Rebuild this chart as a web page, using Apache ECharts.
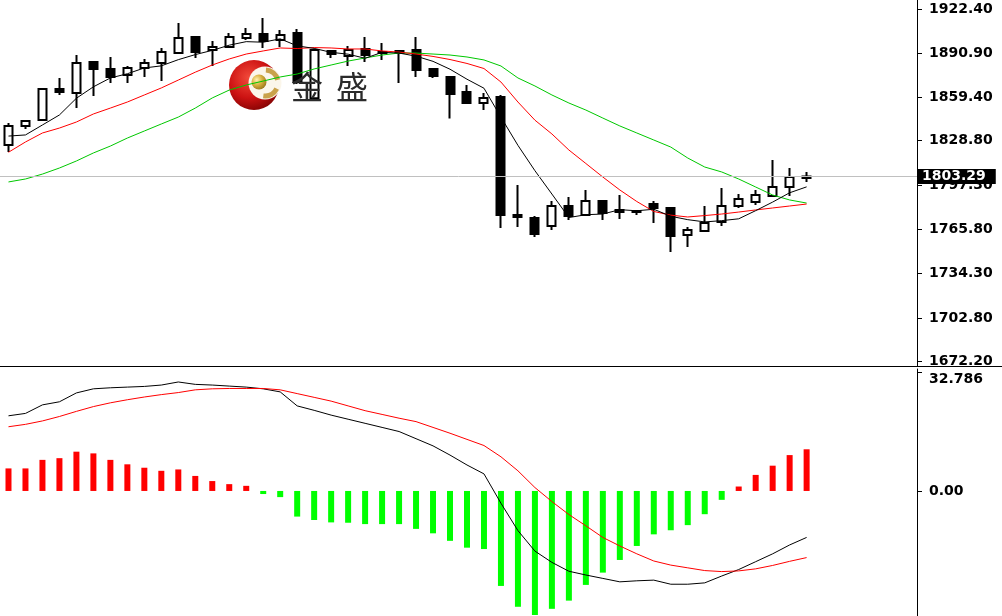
<!DOCTYPE html>
<html>
<head>
<meta charset="utf-8">
<script src="https://cdn.jsdelivr.net/npm/echarts@6/dist/echarts.min.js"></script>
<style>html,body{margin:0;padding:0;background:#fff;overflow:hidden}#c{width:1002px;height:616px}</style>
</head>
<body>
<div id="c"></div>
<script>
// ---- data ----
const opens  = [1825.7,1839.3,1843.5,1865.5,1862.7,1884.7,1879.8,1875.5,1880.5,1884.0,1891.1,1902.5,1893.3,1895.4,1901.8,1904.6,1900.4,1905.3,1859.0,1892.6,1889.0,1894.0,1891.8,1892.6,1893.3,1879.8,1874.1,1863.4,1855.6,1859.9,1776.0,1773.9,1768.2,1782.4,1776.0,1786.0,1779.6,1778.8,1783.8,1780.9,1761.8,1764.6,1771.0,1782.4,1785.2,1789.5,1795.9,1802.3];
const closes = [1839.3,1842.8,1865.5,1863.4,1884.0,1879.8,1874.1,1880.5,1884.0,1891.8,1901.8,1891.8,1895.4,1902.5,1904.6,1899.7,1903.9,1870.5,1893.3,1890.4,1893.3,1889.7,1891.1,1891.1,1879.1,1874.8,1862.0,1855.6,1859.1,1776.0,1774.6,1762.5,1782.4,1775.3,1786.0,1777.4,1778.1,1778.1,1780.9,1761.1,1765.3,1770.3,1782.4,1787.4,1790.2,1795.9,1803.0,1803.3];
const lows   = [1820.8,1837.1,1842.8,1861.3,1852.0,1860.6,1869.8,1869.8,1874.1,1871.2,1891.1,1887.6,1881.9,1895.4,1900.4,1894.7,1895.4,1869.1,1857.0,1887.6,1881.9,1884.7,1886.2,1869.8,1874.1,1873.4,1844.6,1855.6,1850.6,1766.8,1767.5,1760.4,1765.3,1772.4,1776.0,1772.4,1773.2,1776.0,1770.3,1749.7,1753.3,1764.6,1768.2,1780.9,1783.1,1789.5,1789.5,1799.5];
const highs  = [1841.4,1843.5,1866.3,1873.4,1889.7,1884.7,1888.3,1881.9,1886.9,1894.7,1912.5,1903.2,1899.7,1905.3,1908.9,1916.0,1907.5,1908.2,1894.0,1893.3,1896.1,1902.5,1898.2,1892.6,1902.5,1879.8,1874.1,1868.4,1862.7,1861.3,1797.3,1775.3,1786.0,1788.8,1793.8,1786.7,1790.2,1779.6,1786.0,1781.7,1767.5,1782.4,1795.2,1790.9,1793.8,1815.1,1809.4,1806.6];

const maFast = [1832.1,1832.9,1840.0,1847.1,1859.0,1867.1,1873.4,1876.4,1880.5,1882.0,
                1886.4,1890.0,1893.0,1896.7,1899.2,1898.8,1901.2,1896.2,1894.4,1891.6,
                1890.3,1887.4,1891.6,1891.1,1888.9,1885.2,1879.6,1872.5,1866.1,1845.5,
                1825.5,1807.5,1790.9,1774.2,1776.2,1776.7,1779.8,1779.0,1780.1,1775.1,
                1772.7,1771.1,1772.0,1773.3,1779.1,1785.2,1791.8,1796.0];
const maMid  = [1820.6,1827.9,1834.3,1837.8,1842.1,1847.8,1852.0,1856.3,1861.3,1866.3,
                1871.9,1877.5,1882.6,1886.9,1890.4,1892.6,1894.7,1894.3,1895.0,1894.7,
                1894.0,1894.0,1892.6,1891.8,1890.4,1888.7,1886.5,1883.7,1880.1,1870.5,
                1856.3,1843.4,1833.6,1822.2,1812.6,1803.0,1793.8,1785.6,1778.5,1775.9,
                1774.6,1775.6,1776.7,1778.1,1779.6,1781.0,1782.4,1783.8];
const maSlow = [1799.5,1801.6,1805.1,1809.4,1814.4,1820.1,1825.0,1830.7,1835.7,1840.7,
                1845.6,1852.0,1859.2,1864.8,1868.4,1871.2,1874.1,1876.2,1879.8,1882.6,
                1885.4,1887.6,1889.7,1891.1,1891.1,1890.4,1889.7,1888.3,1886.2,1881.9,
                1873.4,1867.7,1861.3,1855.6,1850.6,1844.9,1839.3,1834.3,1829.3,1824.3,
                1816.5,1810.1,1806.6,1801.6,1795.9,1790.2,1786.7,1784.5];

const macdHist = [6.6,6.6,9.1,9.6,11.5,11.0,9.1,7.8,6.8,5.9,
                  6.3,4.4,2.9,2.0,1.5,-0.9,-1.8,-7.5,-8.5,-9.2,
                  -9.3,-9.7,-9.7,-9.7,-11.1,-12.4,-14.6,-16.6,-17.0,-27.8,
                  -33.9,-36.3,-34.5,-32.1,-27.5,-23.9,-20.2,-16.1,-12.7,-11.5,
                  -10.0,-6.8,-2.6,1.3,4.7,7.4,10.5,12.2];
const macdLine = [22.0,22.7,25.2,26.1,28.7,29.9,30.2,30.4,30.6,31.0,
                  31.9,31.2,31.0,30.7,30.4,29.9,29.0,24.9,23.6,22.2,
                  21.0,19.8,18.6,17.4,15.3,13.2,10.5,7.6,5.0,-3.6,
                  -11.6,-17.6,-20.9,-23.5,-24.6,-25.6,-26.6,-26.3,-26.1,-27.3,
                  -27.3,-26.9,-24.9,-23.0,-20.7,-18.4,-15.8,-13.6];
const signalLine = [18.8,19.5,20.5,21.8,23.3,24.7,25.8,26.7,27.5,28.2,
                    28.8,29.6,29.9,30.0,30.0,30.0,29.6,28.5,27.4,26.3,
                    24.9,23.5,22.4,21.3,20.3,18.6,16.9,15.1,13.3,10.0,
                    5.9,1.0,-3.1,-6.9,-10.2,-13.6,-16.1,-18.4,-20.5,-21.7,
                    -22.5,-23.3,-23.6,-23.4,-22.8,-21.8,-20.6,-19.5];

const priceTicks = [1922.40,1890.90,1859.40,1828.80,1797.30,1765.80,1734.30,1702.80,1672.20];
const macdTicks  = [32.786, 0];
const lastPrice  = 1803.29;

// ---- build chart ----
const categories = opens.map((_, i) => 'bar' + (i + 1));
const rightShift = 6;
const axisCats = categories.concat(Array.from({length: rightShift}, (_, i) => 'shift' + (i + 1)));
const candleData = opens.map((o, i) => [o, closes[i], lows[i], highs[i]]);

const labelFont = {fontFamily: 'DejaVu Sans', fontSize: 14, fontWeight: 'bold', color: '#000'};
const hiddenX = (gi) => ({
  type: 'category', gridIndex: gi, data: axisCats, boundaryGap: true,
  axisLine: {show: false}, axisTick: {show: false}, axisLabel: {show: false}, splitLine: {show: false}
});

const chart = echarts.init(document.getElementById('c'));
const goldGrad = new echarts.graphic.RadialGradient(0.35, 0.35, 0.7, [
  {offset: 0, color: '#fff3b0'}, {offset: 0.5, color: '#d9b240'}, {offset: 1, color: '#9c7a1c'}]);
const redGrad = new echarts.graphic.RadialGradient(0.4, 0.35, 0.75, [
  {offset: 0, color: '#f24a3a'}, {offset: 0.55, color: '#cc1212'}, {offset: 1, color: '#760000'}]);
const wmText = (t, x) => ({type: 'text', x: x, y: 87, z: 10, silent: true,
  style: {text: t, fontSize: 32, fontFamily: 'Noto Sans CJK SC', fill: '#2b2b2b',
    textAlign: 'center', textVerticalAlign: 'middle', align: 'center', verticalAlign: 'middle'}});

chart.setOption({
  animation: false,
  backgroundColor: '#fff',
  grid: [
    {left: -2, right: 85, top: 0, height: 366},
    {left: -2, right: 85, top: 369, height: 247}
  ],
  xAxis: [hiddenX(0), hiddenX(1)],
  yAxis: [
    {
      type: 'value', gridIndex: 0, position: 'right', min: 1668.7, max: 1928.8,
      axisLine: {show: true, lineStyle: {color: '#000', width: 1}},
      axisTick: {show: true, length: 5, lineStyle: {color: '#000'}, customValues: priceTicks},
      axisLabel: Object.assign({}, labelFont, {margin: 12, customValues: priceTicks, formatter: v => v.toFixed(2)}),
      splitLine: {show: false}
    },
    {
      type: 'value', gridIndex: 1, position: 'right', min: -36.6, max: 35.7,
      axisLine: {show: true, lineStyle: {color: '#000', width: 1}},
      axisTick: {show: true, length: 5, lineStyle: {color: '#000'}, customValues: [0, 34.8]},
      axisLabel: Object.assign({}, labelFont, {margin: 12, customValues: macdTicks,
        formatter: v => (v === 0 ? '0.00' : String(v))}),
      splitLine: {show: false}
    }
  ],
  series: [
    {
      type: 'candlestick', xAxisIndex: 0, yAxisIndex: 0, data: candleData, barWidth: 8.5, z: 2,
      silent: true,
      itemStyle: {color: '#fff', color0: '#000', borderColor: '#000', borderColor0: '#000', borderWidth: 2},
      markLine: {
        silent: true, symbol: ['none', 'none'], animation: false,
        data: [{yAxis: lastPrice}],
        lineStyle: {color: '#c0c0c0', width: 1, type: 'solid'},
        label: {show: true, position: 'end', formatter: () => lastPrice.toFixed(2),
          backgroundColor: '#000', color: '#fff', fontFamily: 'DejaVu Sans', fontSize: 14, fontWeight: 'bold',
          padding: [1, 10, 0, 4], distance: 1}
      }
    },
    {type: 'line', xAxisIndex: 0, yAxisIndex: 0, data: maSlow, symbol: 'none', silent: true, z: 3,
      lineStyle: {color: '#00c800', width: 1}},
    {type: 'line', xAxisIndex: 0, yAxisIndex: 0, data: maMid, symbol: 'none', silent: true, z: 3,
      lineStyle: {color: '#ff0000', width: 1}},
    {type: 'line', xAxisIndex: 0, yAxisIndex: 0, data: maFast, symbol: 'none', silent: true, z: 4,
      lineStyle: {color: '#000', width: 1}},
    {type: 'bar', xAxisIndex: 1, yAxisIndex: 1, data: macdHist, barWidth: 6, silent: true, z: 2,
      itemStyle: {color: p => (p.value >= 0 ? '#ff0000' : '#00ff00')}},
    {type: 'line', xAxisIndex: 1, yAxisIndex: 1, data: macdLine, symbol: 'none', silent: true, z: 3,
      lineStyle: {color: '#000', width: 1}},
    {type: 'line', xAxisIndex: 1, yAxisIndex: 1, data: signalLine, symbol: 'none', silent: true, z: 3,
      lineStyle: {color: '#ff0000', width: 1}}
  ],
  graphic: [
    {type: 'line', z: 10, shape: {x1: 0, y1: 366.5, x2: 1002, y2: 366.5}, style: {stroke: '#000', lineWidth: 1}},
    {type: 'group', z: 0, children: [
      {type: 'circle', shape: {cx: 254, cy: 85, r: 25}, style: {fill: redGrad}},
      {type: 'circle', shape: {cx: 265, cy: 83, r: 16.5}, style: {fill: '#fbf6ea'}},
      {type: 'arc', shape: {cx: 265, cy: 83, r: 13, startAngle: -1.5, endAngle: -0.25}, style: {stroke: '#c9a24a', lineWidth: 5, fill: null}},
      {type: 'arc', shape: {cx: 265, cy: 83, r: 13, startAngle: 0.45, endAngle: 1.7}, style: {stroke: '#c9a24a', lineWidth: 5, fill: null}},
      {type: 'circle', shape: {cx: 259, cy: 82, r: 7.5}, style: {fill: goldGrad}}
    ]},
    wmText('金', 307),
    wmText('盛', 352)
  ]
});
</script>
</body>
</html>
